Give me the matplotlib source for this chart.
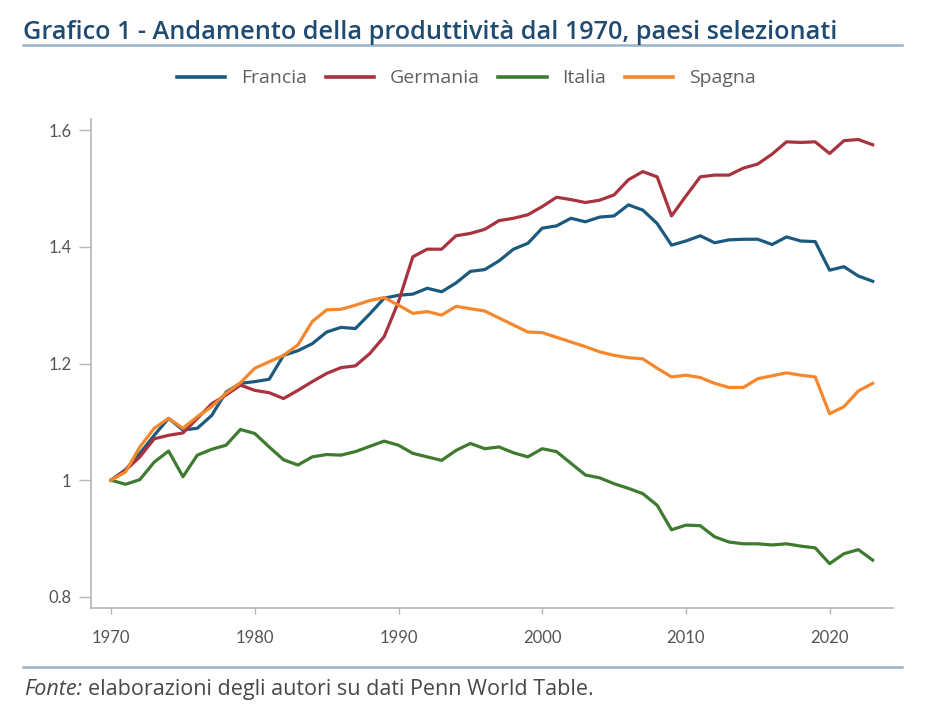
import matplotlib.pyplot as plt
from matplotlib.lines import Line2D

years = list(range(1970, 2024))

francia = [1.000, 1.018, 1.046, 1.077, 1.106, 1.086, 1.089, 1.111, 1.151, 1.166,
           1.169, 1.173, 1.214, 1.222, 1.234, 1.254, 1.262, 1.260, 1.285, 1.312,
           1.317, 1.319, 1.329, 1.323, 1.338, 1.358, 1.361, 1.376, 1.396, 1.406,
           1.432, 1.436, 1.449, 1.443, 1.451, 1.453, 1.472, 1.463, 1.440, 1.403,
           1.410, 1.419, 1.407, 1.412, 1.413, 1.413, 1.404, 1.417, 1.410, 1.409,
           1.360, 1.366, 1.350, 1.341]
germania = [1.000, 1.017, 1.040, 1.071, 1.077, 1.081, 1.106, 1.131, 1.146, 1.163,
            1.154, 1.150, 1.140, 1.154, 1.169, 1.183, 1.193, 1.196, 1.217, 1.246,
            1.306, 1.383, 1.396, 1.396, 1.419, 1.423, 1.430, 1.445, 1.449, 1.455,
            1.469, 1.485, 1.481, 1.476, 1.480, 1.489, 1.515, 1.529, 1.520, 1.453,
            1.487, 1.520, 1.523, 1.523, 1.535, 1.542, 1.559, 1.580, 1.579, 1.580,
            1.560, 1.582, 1.584, 1.575]
italia = [1.000, 0.993, 1.001, 1.031, 1.050, 1.006, 1.043, 1.053, 1.060, 1.087,
          1.080, 1.057, 1.035, 1.026, 1.040, 1.044, 1.043, 1.049, 1.058, 1.067,
          1.060, 1.046, 1.040, 1.034, 1.051, 1.063, 1.054, 1.057, 1.047, 1.040,
          1.054, 1.049, 1.029, 1.009, 1.004, 0.994, 0.986, 0.977, 0.957, 0.915,
          0.923, 0.922, 0.903, 0.894, 0.891, 0.891, 0.889, 0.891, 0.887, 0.884,
          0.857, 0.874, 0.881, 0.863]
spagna = [1.000, 1.014, 1.057, 1.089, 1.106, 1.089, 1.109, 1.126, 1.149, 1.167,
          1.192, 1.203, 1.214, 1.232, 1.272, 1.292, 1.293, 1.300, 1.308, 1.313,
          1.300, 1.286, 1.289, 1.283, 1.298, 1.294, 1.290, 1.278, 1.266, 1.254,
          1.253, 1.245, 1.237, 1.229, 1.220, 1.214, 1.210, 1.208, 1.192, 1.177,
          1.180, 1.176, 1.166, 1.159, 1.159, 1.174, 1.179, 1.184, 1.180, 1.177,
          1.114, 1.126, 1.153, 1.166]

series = [("Francia", francia, "#1b5a7e"),
          ("Germania", germania, "#a8333f"),
          ("Italia", italia, "#3e7b30"),
          ("Spagna", spagna, "#f5872d")]

yticks = [0.8, 1.0, 1.2, 1.4, 1.6]
ytick_labels = ["0.8", "1", "1.2", "1.4", "1.6"]
xticks = [1970, 1980, 1990, 2000, 2010, 2020]

plt.rcParams['font.family'] = ['Lato', 'DejaVu Sans']

fig = plt.figure(figsize=(9.4, 7.2), dpi=100)
ax = fig.add_axes([0.0968, 0.1556, 0.853, 0.679])

for name, vals, col in series:
    ax.plot(years, vals, color=col, lw=2.3, label=name, solid_joinstyle='round')

ax.set_xlim(1968.6, 2024.4)
ax.set_ylim(0.781, 1.619)
ax.set_yticks(yticks)
ax.set_yticklabels(ytick_labels)
ax.set_xticks(xticks)

for s in ["top", "right"]:
    ax.spines[s].set_visible(False)
for s in ["left", "bottom"]:
    ax.spines[s].set_color("#b5b5b5")
    ax.spines[s].set_linewidth(1.2)
ax.tick_params(axis="y", length=9, width=1, color="#b5b5b5", labelsize=12,
               labelcolor="#555555", pad=5)
ax.tick_params(axis="x", length=4, width=1, color="#b5b5b5", labelsize=12,
               labelcolor="#555555", pad=12)

handles = [Line2D([0], [0], color=c, lw=2.6) for _, _, c in series]
fig.legend(handles, [n for n, _, _ in series], loc="center", ncol=4,
           bbox_to_anchor=(0.496, 0.891), frameon=False,
           prop={"family": ["Open Sans", "DejaVu Sans"], "size": 14},
           handlelength=2.5, handletextpad=0.8, columnspacing=0.95,
           labelcolor="#606060")

fig.text(0.024, 0.955, "Grafico 1 - Andamento della produttività dal 1970, paesi selezionati",
         fontsize=18.2, fontweight="semibold", color="#1f4b73", va="center",
         family=["Open Sans", "DejaVu Sans"])
fig.add_artist(Line2D([0.024, 0.96], [0.937, 0.937], color="#9ab3c8", lw=1.8))
fig.add_artist(Line2D([0.024, 0.96], [0.073, 0.073], color="#9ab3c8", lw=1.8))

foot_font = {"family": ["Open Sans", "DejaVu Sans"], "size": 15.5, "color": "#484848"}
t1 = fig.text(0.026, 0.042, "Fonte:", style="italic", va="center", **foot_font)
fig.canvas.draw()
bb = t1.get_window_extent().transformed(fig.transFigure.inverted())
fig.text(bb.x1 + 0.006, 0.042, "elaborazioni degli autori su dati Penn World Table.",
         va="center", **foot_font)

fig.savefig("out.png", dpi=100, facecolor="white")
